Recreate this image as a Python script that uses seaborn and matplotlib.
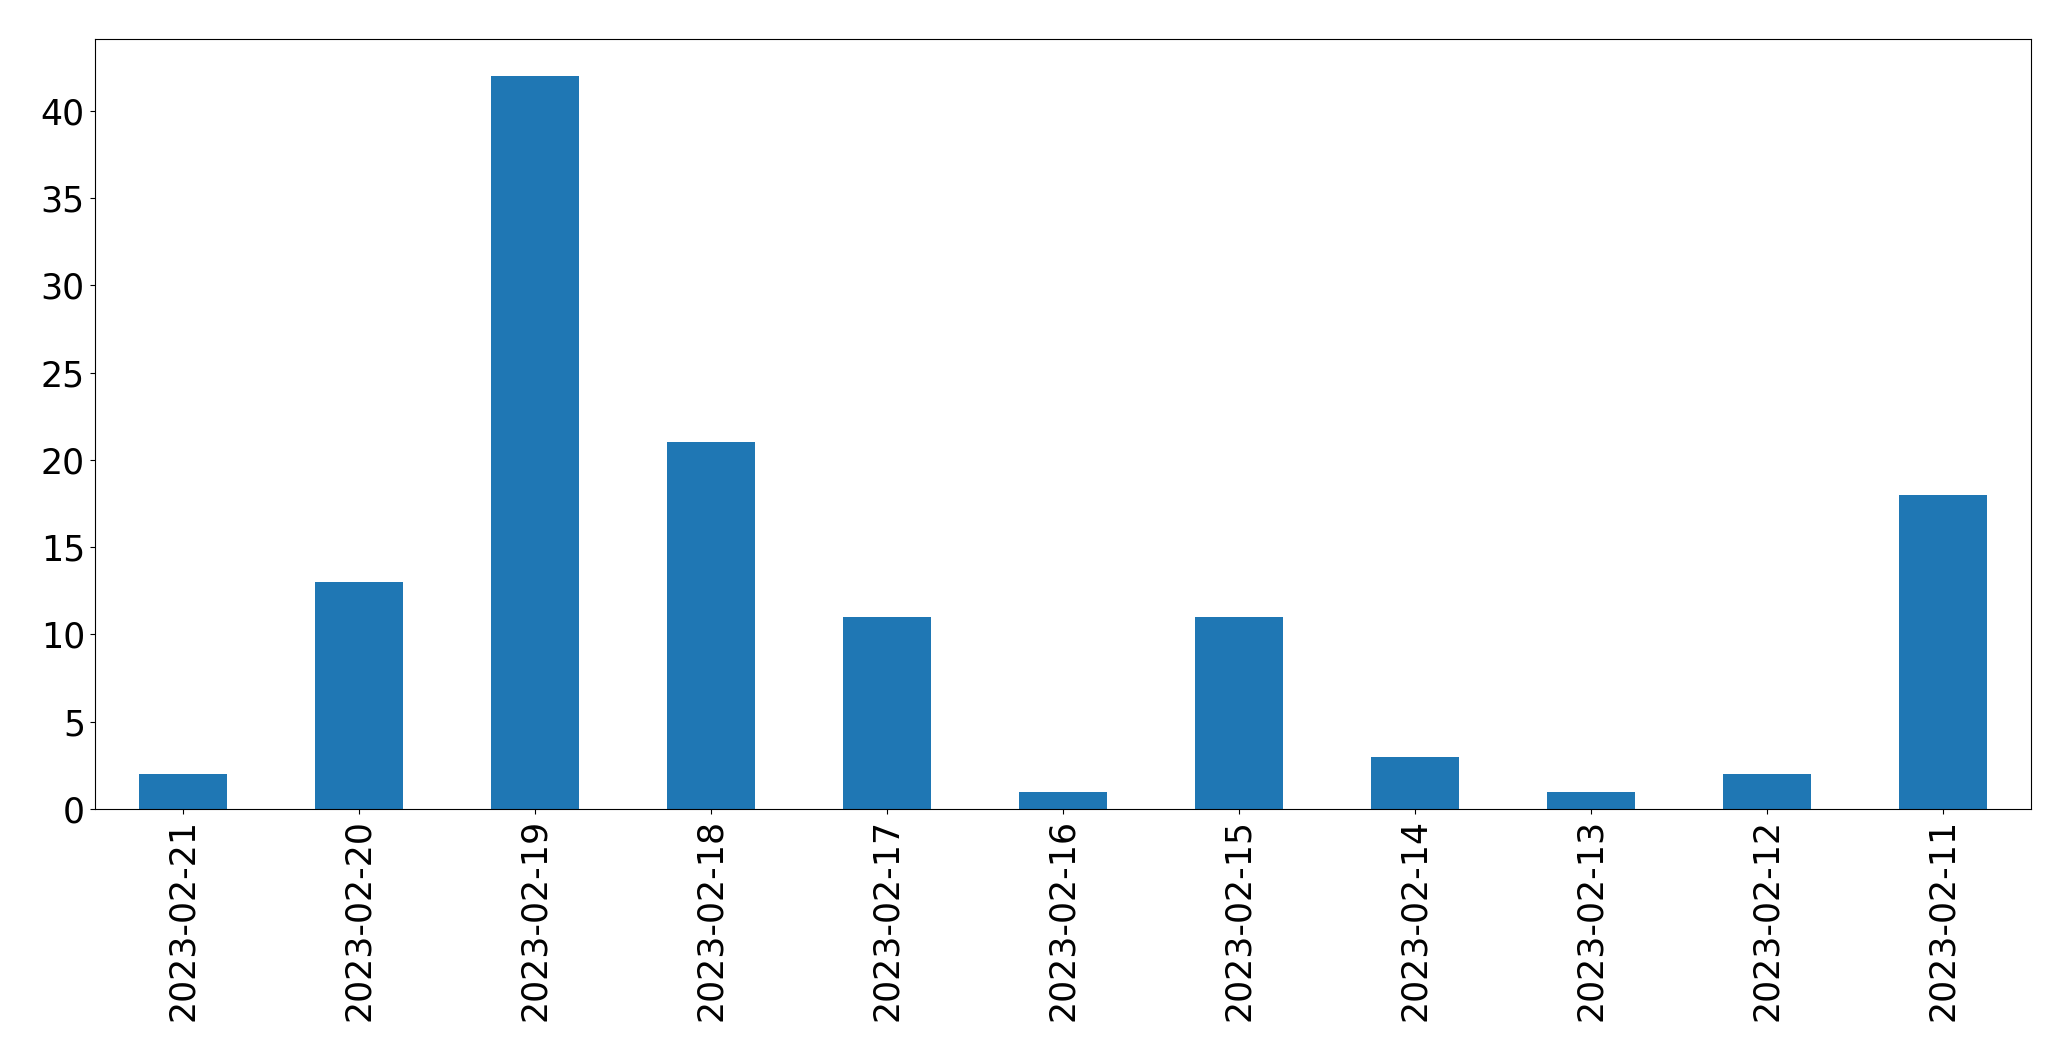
import matplotlib
matplotlib.use("Agg")
import matplotlib.pyplot as plt
import pandas as pd
import seaborn as sns

dates = [
    "2023-02-21", "2023-02-20", "2023-02-19", "2023-02-18", "2023-02-17",
    "2023-02-16", "2023-02-15", "2023-02-14", "2023-02-13", "2023-02-12",
    "2023-02-11",
]
counts = [2, 13, 42, 21, 11, 1, 11, 3, 1, 2, 18]

df = pd.DataFrame({"date": dates, "count": counts})

fig = plt.figure(figsize=(20.71, 10.61), dpi=100)
ax = fig.add_axes([0.0457, 0.2375, 0.935, 0.7255])

sns.barplot(data=df, x="date", y="count", order=dates, color="#1f77b4",
            saturation=1, width=0.5, ax=ax)

ax.set_xlim(-0.5, len(dates) - 0.5)
ax.set_ylim(0, max(counts) * 1.05)
ax.set_xlabel("")
ax.set_ylabel("")
ax.tick_params(axis="both", labelsize=25)
ax.tick_params(axis="x", rotation=90)

fig.savefig("out.png", dpi=100)
